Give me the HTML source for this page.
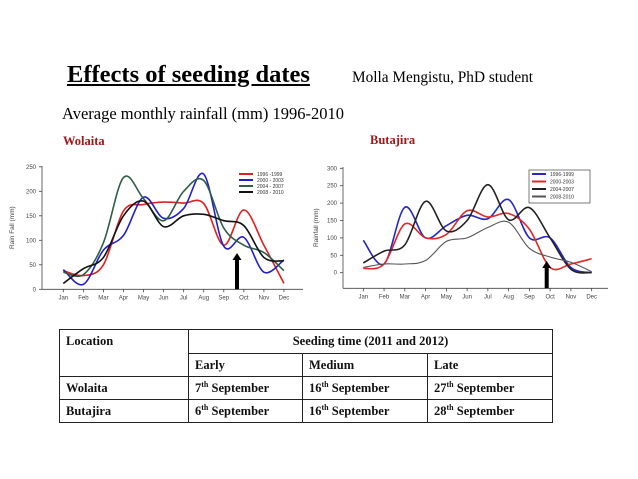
<!DOCTYPE html>
<html><head><meta charset="utf-8">
<style>
body{margin:0;width:638px;height:479px;background:#fff;overflow:hidden;font-family:"Liberation Serif",serif;position:relative}
.t{position:absolute;white-space:nowrap}
table{position:absolute;left:59px;top:329px;width:494px;border-collapse:collapse;font-family:"Liberation Serif",serif;font-weight:bold;font-size:12.5px;color:#111}
td{border:1px solid #222;padding:0 6px;height:22px}
sup{font-size:8px}
</style></head><body>
<div class="t" style="left:67px;top:61px;font-size:24.5px;font-weight:bold;text-decoration:underline">Effects of seeding dates</div>
<div class="t" style="left:352px;top:69px;font-size:15.3px">Molla Mengistu, PhD student</div>
<div class="t" style="left:62px;top:104px;font-size:16.5px">Average monthly rainfall (mm) 1996-2010</div>
<div class="t" style="left:63px;top:134px;font-size:12.5px;font-weight:bold;color:#a01818">Wolaita</div>
<div class="t" style="left:370px;top:133px;font-size:12.5px;font-weight:bold;color:#a01818">Butajira</div>
<svg id="chart" width="638" height="479" style="position:absolute;left:0;top:0"></svg>
<table>
<tr style="height:24px"><td rowspan="2" style="width:116px;vertical-align:top;padding-top:4px">Location</td><td colspan="3" style="text-align:center">Seeding time (2011 and 2012)</td></tr>
<tr><td style="width:101px">Early</td><td style="width:112px">Medium</td><td>Late</td></tr>
<tr><td>Wolaita</td><td>7<sup>th</sup> September</td><td>16<sup>th</sup> September</td><td>27<sup>th</sup> September</td></tr>
<tr style="height:23px"><td>Butajira</td><td>6<sup>th</sup> September</td><td>16<sup>th</sup> September</td><td>28<sup>th</sup> September</td></tr>
</table>
<script>
const months=["Jan","Feb","Mar","Apr","May","Jun","Jul","Aug","Sep","Oct","Nov","Dec"];
const wolSeriesNames=["1996 -1999","2000 - 2003","2004 - 2007","2008 - 2010"];
const wolRed=[38,28,50,160,173,178,176,175,90,162,90,12];
const wolBlue=[40,10,80,110,188,145,165,235,88,106,35,60];
const wolGreen=[35,30,95,228,185,140,200,222,125,90,75,38];
const wolBlack=[12,42,65,150,180,128,150,153,140,130,65,58];
const wolTicks=[0,50,100,150,200,250];
const butSeriesNames=["1996-1999","2000-2003","2004-2007","2008-2010"];
const butBlue=[93,25,188,100,135,165,155,210,100,100,15,0];
const butRed=[12,25,140,100,110,178,160,170,125,15,25,40];
const butBlack=[28,62,80,205,120,150,253,152,187,100,10,0];
const butGray=[15,25,25,35,90,100,130,145,70,45,30,3];
const butTicks=[0,50,100,150,200,250,300];

const svg=document.getElementById('chart');
const NS='http://www.w3.org/2000/svg';
function mk(tag,attrs,parent){const e=document.createElementNS(NS,tag);for(const k in attrs)e.setAttribute(k,attrs[k]);(parent||svg).appendChild(e);return e;}
function smooth(pts){let d='M'+pts[0][0]+','+pts[0][1];for(let i=0;i<pts.length-1;i++){const p0=pts[i-1]||pts[i],p1=pts[i],p2=pts[i+1],p3=pts[i+2]||p2;
d+=' C'+(p1[0]+(p2[0]-p0[0])/6)+','+(p1[1]+(p2[1]-p0[1])/6)+' '+(p2[0]-(p3[0]-p1[0])/6)+','+(p2[1]-(p3[1]-p1[1])/6)+' '+p2[0]+','+p2[1];}return d;}

function chart(c){
  const g=mk('g',{});
  
  
  const xs=i=>c.x0+i*c.dx, ys=v=>c.y0-v*c.k;
  mk('line',{x1:c.ax,y1:c.top,x2:c.ax,y2:c.xb,stroke:'#444','stroke-width':0.8},g);
  mk('line',{x1:c.ax,y1:c.xb,x2:c.right,y2:c.xb,stroke:'#444','stroke-width':0.8},g);
  c.ticks.forEach(t=>{mk('line',{x1:c.ax-3,y1:ys(t),x2:c.ax,y2:ys(t),stroke:'#444','stroke-width':0.8},g);
    const tx=mk('text',{x:c.ax-6,y:ys(t)+2,'font-size':6,'text-anchor':'end',fill:'#444','font-family':'Liberation Sans, sans-serif'},g);tx.textContent=t;
    });
  months.forEach((m,i)=>{mk('line',{x1:xs(i),y1:c.xb,x2:xs(i),y2:c.xb+3,stroke:'#444','stroke-width':0.8},g);
    const tx=mk('text',{x:xs(i),y:c.xb+10,'font-size':6,'text-anchor':'middle',fill:'#444','font-family':'Liberation Sans, sans-serif'},g);tx.textContent=m;
    });
  const yt=mk('text',{x:0,y:0,'font-size':6.5,'text-anchor':'middle',fill:'#444','font-family':'Liberation Sans, sans-serif',transform:'translate('+c.ytx+','+((c.top+c.xb)/2)+') rotate(-90)'},g);
  yt.textContent=c.ytitle;
  
  c.series.forEach((s,si)=>{const p=mk('path',{d:smooth(s.v.map((v,i)=>[xs(i),ys(v)])),fill:'none',stroke:s.col,'stroke-width':s.w||1.6},g);
    });
  const a=mk('g',{},g);
  mk('rect',{x:c.arx-2,y:c.arTop+6,width:4,height:c.xb-c.arTop-6,fill:'#000'},a);
  mk('path',{d:'M'+(c.arx-4.5)+','+(c.arTop+7)+' L'+c.arx+','+c.arTop+' L'+(c.arx+4.5)+','+(c.arTop+7)+'Z',fill:'#000'},a);
  const L=mk('g',{},g);
  if(c.box)mk('rect',{x:c.lx-3,y:c.ly-4,width:c.lw,height:c.lh,fill:'#fff',stroke:'#444','stroke-width':0.7},L);
  c.series.forEach((s,i)=>{const y=c.ly+i*c.lstep;mk('line',{x1:c.lx,y1:y,x2:c.lx+14,y2:y,stroke:s.col,'stroke-width':2},L);
    const tx=mk('text',{x:c.lx+18,y:y+2,'font-size':5,fill:'#333','font-family':'Liberation Sans, sans-serif'},L);tx.textContent=c.names[i];
    });
}
chart({name:'wolaita-chart',x0:63.3,dx:20.06,y0:289.3,k:24.5/50,ax:42,top:166,xb:289.3,right:303,ticks:wolTicks,ytx:14,ytitle:'Rain Fall (mm)',
 names:wolSeriesNames,series:[{v:wolRed,col:'#e02020'},{v:wolBlue,col:'#2020c8'},{v:wolGreen,col:'#2e5e48'},{v:wolBlack,col:'#111'}],
 arx:237,arTop:253,lx:239,ly:174,lstep:6,box:false});
chart({name:'butajira-chart',x0:363.3,dx:20.76,y0:272.7,k:17.4/50,ax:343,top:167,xb:288.3,right:608,ticks:butTicks,ytx:318,ytitle:'Rainfall (mm)',
 names:butSeriesNames,series:[{v:butBlue,col:'#2828c0'},{v:butRed,col:'#e02828'},{v:butBlack,col:'#222'},{v:butGray,col:'#555',w:1.1}],
 arx:546.7,arTop:261,lx:532,ly:174,lstep:7.5,box:true,lw:61,lh:33});
</script>
</body></html>
